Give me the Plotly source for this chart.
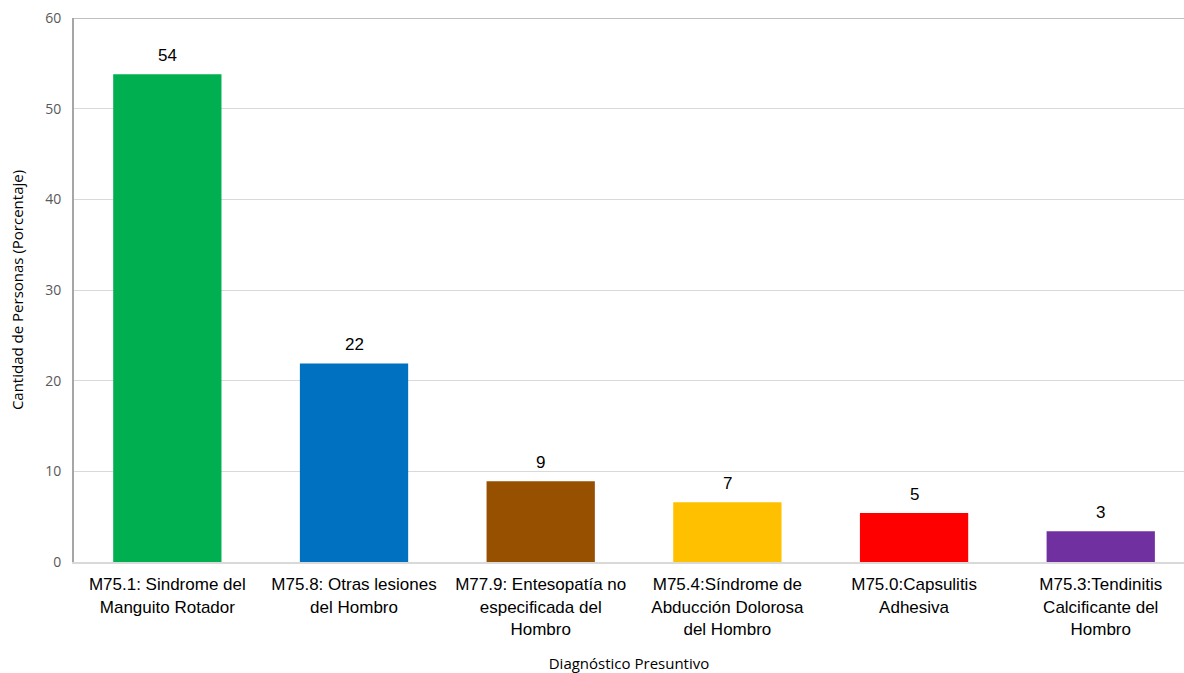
import plotly.graph_objects as go

# Diagnoses (x categories), percentage of people per diagnosis, bar colours
categories = [
    "M75.1: Sindrome del<br>Manguito Rotador",
    "M75.8: Otras lesiones<br>del Hombro",
    "M77.9: Entesopatía no<br>especificada del<br>Hombro",
    "M75.4:Síndrome de<br>Abducción Dolorosa<br>del Hombro",
    "M75.0:Capsulitis<br>Adhesiva",
    "M75.3:Tendinitis<br>Calcificante del<br>Hombro",
]
percentages = [53.8, 21.9, 8.9, 6.6, 5.4, 3.4]
colors = ["#00B050", "#0070C0", "#974F00", "#FFC000", "#FF0000", "#7030A0"]
y_ticks = [0, 10, 20, 30, 40, 50, 60]

fig = go.Figure()
fig.add_trace(go.Bar(
    x=list(range(len(categories))),
    y=percentages,
    marker=dict(color=colors, line=dict(width=0)),
    hoverinfo="skip",
))

# Rounded value label above each bar
for i, v in enumerate(percentages):
    fig.add_annotation(
        x=i, y=v, xref="x", yref="y",
        text=f"{v:.0f}", showarrow=False,
        yanchor="bottom", yshift=7,
        font=dict(family="Liberation Sans, Arial", size=17, color="#000000"),
    )

# Darker frame line along the top of the plot area
fig.add_shape(type="line", xref="paper", yref="y", x0=0, x1=1, y0=60, y1=60,
              line=dict(color="#bfbfbf", width=2))

fig.update_layout(
    width=1184, height=673, autosize=False,
    margin=dict(l=74, r=0, t=18, b=111, pad=0),
    paper_bgcolor="white", plot_bgcolor="white",
    showlegend=False,
    bargap=0.42,
    xaxis=dict(
        tickmode="array",
        tickvals=list(range(len(categories))),
        ticktext=categories,
        range=[-0.5, 5.446],
        showgrid=False, zeroline=False,
        showline=True, linecolor="#d9d9d9", linewidth=2,
        ticks="", tickangle=0, ticklabelstandoff=6,
        tickfont=dict(family="Liberation Sans, Arial", size=17, color="#000000"),
        title=dict(text="Diagnóstico Presuntivo", standoff=22,
                   font=dict(family="Open Sans", size=15, color="#000000")),
        automargin=False,
    ),
    yaxis=dict(
        range=[0, 60],
        tickmode="array", tickvals=y_ticks,
        showgrid=True, gridcolor="#d9d9d9", gridwidth=1,
        zeroline=False,
        showline=True, linecolor="#a6a6a6", linewidth=2,
        ticks="", ticklabelstandoff=8,
        tickfont=dict(family="Open Sans", size=14, color="#595959"),
        title=dict(text="Cantidad de Personas (Porcentaje)", standoff=18,
                   font=dict(family="Open Sans", size=15, color="#000000")),
        automargin=False,
    ),
)

fig.write_html("out.html")
